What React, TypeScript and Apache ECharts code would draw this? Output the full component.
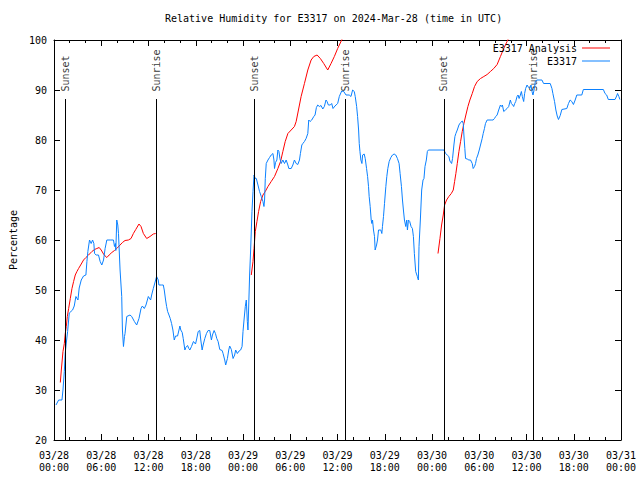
import React, { useEffect, useRef } from "react";
import * as echarts from "echarts";

const FONT = "DejaVu Sans Mono";
const TITLE = "Relative Humidity for E3317 on 2024-Mar-28 (time in UTC)";
const BLUE = "#0a80ff";
const RED = "#ff0000";

// hours since 2024-03-28 00:00 UTC, relative humidity (%)
const e3317Obs: [number, number][] = [
  [0.25,27],[0.59,28],[1.01,28],[1.14,30],[1.31,33.7],[1.43,37.4],[1.56,39.4],[1.73,41.7],[1.94,45.4],[2.15,45.7],[2.36,46],[2.57,46.8],[2.78,48.7],[3.04,48],[3.2,50.4],[3.46,52],[3.75,52.8],[4.05,53],[4.18,55.7],[4.3,57.7],[4.51,60],[4.72,59.3],[4.9,60],[5.06,59.3],[5.15,57.3],[5.35,57],[5.65,57],[5.86,55.7],[6.07,55],[6.29,56],[6.49,58.3],[6.71,60],[7.13,60],[7.55,60],[7.68,58.7],[7.8,59.3],[7.85,57.9],[7.97,64],[8.1,63],[8.19,61.3],[8.39,54],[8.6,48.7],[8.69,42],[8.82,38.7],[8.95,40.7],[9.02,41.3],[9.24,44.7],[9.65,45],[9.87,44.7],[10.21,43.7],[10.5,43],[10.79,44.3],[11.05,46.3],[11.22,46.8],[11.47,46.3],[11.68,47],[11.98,48.7],[12.27,48],[12.4,49],[12.61,50.3],[12.91,52],[13.03,52.7],[13.24,52],[13.32,51],[13.67,51],
  [13.88,51],[14.0,50],[14.17,48],[14.3,46.7],[14.43,45.7],[14.6,45],[14.76,44.3],[14.93,43.3],[15.1,42],[15.27,40],[15.44,40.8],[15.69,40.8],[15.99,42.8],[16.1,42],[16.28,41.5],[16.41,40.3],[16.62,38],[16.74,38.5],[16.96,38.9],[17.12,38.3],[17.25,38],[17.46,38.7],[17.71,39.7],[17.97,39.2],[18.09,40],[18.31,41.7],[18.51,41.9],[18.64,40],[18.81,38],[18.94,39],[19.15,40.3],[19.36,41.3],[19.57,41.9],[19.78,41.9],[19.99,40],[20.12,41],[20.33,41.9],[20.5,41.3],[20.67,40.3],[20.84,39.7],[21.05,38.1],[21.35,37.9],[21.47,37.3],[21.68,36],[21.8,35],[22.02,36.3],[22.19,38],[22.31,38.8],[22.52,38.1],[22.74,36.3],[22.94,37],[23.07,38],[23.28,37.3],[23.5,37.8],[23.7,38],[23.88,38.7],[24.0,41.7],[24.13,44],[24.29,46.7],[24.42,48],[24.55,43.7],[24.63,42],[24.71,46],[24.84,53],[24.97,58],
  [25.14,65.7],[25.27,69.7],[25.4,73],[25.56,72.3],[25.69,72.3],[25.9,71],[26.1,69.7],[26.32,68.7],[26.53,67.7],[26.66,66.7],[26.74,68],[26.83,72.3],[26.95,75.3],[27.17,76],[27.37,76.5],[27.58,77],[27.8,77.3],[27.93,76],[28.0,74.3],[28.13,75.5],[28.3,76],[28.43,78],[28.56,77.7],[28.69,76.3],[28.85,75.3],[29.06,76],[29.27,75.3],[29.48,76],[29.7,75],[29.82,74.3],[30.12,74.3],[30.33,75],[30.53,76],[30.75,75.3],[30.96,75.1],[31.17,76],[31.29,77.3],[31.47,79],[31.6,79.3],[31.8,79.7],[32.01,80.3],[32.23,81.3],[32.35,84],[32.52,83.7],[32.73,84],[32.99,84.7],[33.15,85],[33.32,86.5],[33.49,87],[33.7,86.7],[33.91,86.9],[34.13,86.2],[34.33,86.7],[34.54,88],[34.67,87.7],[34.84,87],[35.09,87],[35.26,87.3],[35.43,86.3],[35.68,86.8],[36.02,87.3],[36.23,88.7],[36.53,89.8],[36.79,89.7],[37.08,89],[37.49,89],
  [37.71,88.7],[37.92,90],[38.13,89.7],[38.25,88.7],[38.43,86.7],[38.55,84.7],[38.68,82],[38.76,79.3],[38.85,77.7],[38.97,76],[39.1,75.3],[39.19,77],[39.39,77.2],[39.52,76.3],[39.69,74.3],[39.82,72.7],[39.94,70.7],[40.02,68.7],[40.15,66.7],[40.28,64],[40.36,63.3],[40.45,64],[40.57,62],[40.7,60.7],[40.78,58],[40.96,59],[41.08,60],[41.21,62],[41.5,62],[41.63,61.3],[41.71,62.7],[41.84,64.7],[41.97,67.3],[42.14,70.7],[42.26,72.7],[42.39,74.3],[42.56,75.7],[42.77,76.5],[42.98,77],[43.19,77.2],[43.4,77],[43.61,76.3],[43.82,75.3],[43.95,73.3],[44.12,70.7],[44.25,68],[44.37,66],[44.5,64],[44.67,62.7],[44.79,64],[44.88,62],[45.01,64],[45.17,63.7],[45.34,62.7],[45.51,62.3],[45.64,60.7],[45.76,57.3],[45.93,53.7],[46.14,52.7],[46.27,52],[46.35,58.7],[46.52,64],[46.69,70],[46.86,72],[46.98,72.3],[47.11,74.7],[47.28,76],[47.41,77.7],[47.54,78],[49.52,78],
  [49.73,77.3],[49.94,77],[50.14,76.7],[50.27,75.8],[50.49,75.3],[50.61,76.3],[50.78,79],[50.91,80.7],[51.03,81.3],[51.21,82],[51.42,83],[51.63,83.5],[51.84,83.8],[51.97,83.3],[52.05,81],[52.17,78.3],[52.26,76.3],[52.47,76.2],[52.68,76],[52.89,76],[53.11,75.3],[53.23,74.3],[53.4,74.7],[53.53,75.3],[53.65,76.3],[53.82,77],[54.0,78],[54.16,79],[54.37,80.3],[54.5,81.3],[54.66,82.3],[54.79,83.3],[55.0,84],[55.51,84],[55.76,84],[55.93,84.3],[56.09,84.7],[56.27,85],[56.47,86],[56.69,87],[56.81,86.7],[56.94,87],[57.11,85.7],[57.32,86],[57.53,86.3],[57.74,86.7],[57.95,88],[58.08,87.3],[58.25,87],[58.37,86.7],[58.5,87.3],[58.63,87.7],[58.8,88.7],[58.93,89],[59.06,88.3],[59.22,89],[59.35,89.7],[59.47,88.7],[59.64,87.7],[59.76,89.3],[59.89,90.3],[60.07,91],[60.27,90.5],[60.4,90.3],[60.57,91],[60.7,89.7],[60.82,89],[61.0,90.3],[61.12,91.7],[61.3,92],
  [61.96,92],[62.17,91.3],[63.01,91.3],[63.23,90.3],[63.35,89.3],[63.56,87.7],[63.73,86],[63.9,84.8],[64.06,84.1],[64.28,84.9],[64.49,86.1],[65.12,86.3],[65.33,87.3],[65.54,88],[65.75,87.7],[65.96,87.1],[66.18,88],[66.39,89],[67.02,89],[67.22,90.1],[69.76,90.1],[69.97,89.3],[70.18,89],[70.39,88.1],[71.24,88.1],[71.45,88.8],[71.56,89.3],[71.73,88.7],[71.86,88.1],
];

const analysisRun1: [number, number][] = [
  [0.8,31.5],[0.93,34],[1.14,37.7],[1.31,39.3],[1.43,41.3],[1.56,42.7],[1.69,44.7],[1.86,46.3],[2.07,48.3],[2.28,50.3],[2.49,51.7],[2.7,53],[2.91,53.7],[3.12,54.3],[3.46,55.2],[3.75,56],[4.05,56.5],[4.39,57],[4.81,57.7],[5.15,58.1],[5.44,58.3],[5.74,58.5],[5.99,58],[6.29,57.2],[6.49,56.8],[6.71,56.5],[7.0,57],[7.34,57.5],[7.68,57.9],[7.97,58.3],[8.39,59],[8.69,59.5],[9.02,59.9],[9.45,60],[9.78,60.3],[10.08,61.3],[10.38,62.1],[10.79,63.2],[11.05,62.7],[11.35,61.3],[11.77,60.3],[12.19,60.7],[12.61,61.2],[12.91,61.3],
];
const analysisRun2: [number, number][] = [
  [25.05,53],[25.27,55.7],[25.4,58.3],[25.56,61.7],[25.77,63.7],[25.98,65.7],[26.24,67.7],[26.53,69],[26.83,69.7],[27.17,70.7],[27.58,71.7],[28.0,72.7],[28.43,74.3],[28.77,75.7],[29.06,77.7],[29.36,79.7],[29.7,81.3],[30.12,82],[30.53,82.7],[30.75,83.7],[31.04,86],[31.38,88.7],[31.8,91.3],[32.23,94],[32.65,96],[32.99,96.7],[33.41,97],[33.82,96.3],[34.25,95.3],[34.76,94],[35.18,95.3],[35.6,96.7],[36.02,98.3],[36.53,100],[37.0,101.6],
];
const analysisRun3: [number, number][] = [
  [48.76,57.3],[49.01,60.3],[49.22,63],[49.43,65],[49.6,67],[49.85,68],[50.14,68.7],[50.45,69.3],[50.7,70],[50.87,71.7],[51.03,73.3],[51.21,75.3],[51.42,77.7],[51.63,79.7],[51.84,81.7],[52.05,83.3],[52.3,85],[52.56,86.7],[52.81,88],[53.11,89.3],[53.4,90.7],[53.74,91.7],[54.16,92.3],[54.58,92.7],[55.0,93.1],[55.42,93.7],[55.84,94.3],[56.27,95.1],[56.69,96.7],[57.11,98.3],[57.53,99.7],[58.0,101.3],
];

const sunEvents = ["Sunset", "Sunrise", "Sunset", "Sunrise", "Sunset", "Sunrise"];
const sunHours = [1.43, 13.03, 25.47, 36.99, 49.52, 60.9];
const sunLineTop = 88.2;

const yTicks = [20, 100, 10]; // min, max, step
const xRangeHours = [0, 72, 6];

function fmtTick(v: number): string {
  const day = 28 + Math.floor(v / 24);
  const hr = Math.round(v % 24);
  return `03/${day}\n${String(hr).padStart(2, "0")}:00`;
}

export default function App() {
  const ref = useRef<HTMLDivElement>(null);
  useEffect(() => {
    if (!ref.current) return;
    const chart = echarts.init(ref.current, null, { renderer: "svg" });
    const analysisData: any[] = [
      ...analysisRun1,
      [18, "-"],
      ...analysisRun2,
      [43, "-"],
      ...analysisRun3,
    ];
    const axisCommonX = {
      type: "value",
      min: xRangeHours[0],
      max: xRangeHours[1],
      interval: xRangeHours[2],
      splitLine: { show: false },
      axisLine: { show: true, onZero: false, lineStyle: { color: "#000", width: 1 } },
      axisTick: { show: true, inside: true, length: 6, lineStyle: { color: "#000" } },
      minorTick: { show: true, splitNumber: 3, length: 3, lineStyle: { color: "#000" } },
    };
    const axisCommonY = {
      type: "value",
      min: yTicks[0],
      max: yTicks[1],
      interval: yTicks[2],
      splitLine: { show: false },
      axisLine: { show: true, onZero: false, lineStyle: { color: "#000", width: 1 } },
      axisTick: { show: true, inside: true, length: 6, lineStyle: { color: "#000" } },
    };
    const legendCommon = {
      orient: "horizontal",
      align: "right",
      right: 30,
      padding: 0,
      icon: "rect",
      itemWidth: 28,
      itemHeight: 1,
      textStyle: { fontFamily: FONT, fontSize: 10, color: "#000" },
    };
    chart.setOption({
      animation: false,
      backgroundColor: "#fff",
      textStyle: { fontFamily: FONT },
      title: {
        text: TITLE,
        left: 165,
        top: 13,
        padding: 0,
        textStyle: { fontFamily: FONT, fontSize: 10, fontWeight: "normal", color: "#000" },
      },
      legend: [
        { ...legendCommon, data: ["E3317 Analysis"], top: 43 },
        { ...legendCommon, data: ["E3317"], top: 56 },
      ],
      grid: { left: 52, right: 19, top: 40, bottom: 40 },
      xAxis: [
        {
          ...axisCommonX,
          position: "bottom",
          axisLabel: {
            formatter: fmtTick,
            fontFamily: FONT,
            fontSize: 10,
            color: "#000",
            margin: 9,
            lineHeight: 12,
            showMinLabel: true,
            showMaxLabel: true,
          },
        },
        { ...axisCommonX, position: "top", axisLabel: { show: false } },
      ],
      yAxis: [
        {
          ...axisCommonY,
          position: "left",
          name: "Percentage",
          nameLocation: "middle",
          nameRotate: 90,
          nameGap: 36,
          nameTextStyle: { fontFamily: FONT, fontSize: 10, color: "#000" },
          axisLabel: { fontFamily: FONT, fontSize: 10, color: "#000", margin: 7 },
        },
        { ...axisCommonY, position: "right", axisLabel: { show: false } },
      ],
      series: [
        {
          name: "E3317 Analysis",
          type: "line",
          data: analysisData,
          connectNulls: false,
          symbol: "none",
          clip: true,
          itemStyle: { color: RED },
          lineStyle: { color: RED, width: 1 },
        },
        {
          name: "E3317",
          type: "line",
          data: e3317Obs,
          symbol: "none",
          clip: true,
          itemStyle: { color: BLUE },
          lineStyle: { color: BLUE, width: 1 },
        },
        {
          name: "sun",
          type: "scatter",
          symbolSize: 1,
          itemStyle: { color: "rgba(0,0,0,0)" },
          silent: true,
          data: sunHours.map((h, i) => [h, sunLineTop, sunEvents[i]]),
          label: {
            show: true,
            position: "top",
            distance: 7,
            rotate: 90,
            align: "left",
            verticalAlign: "middle",
            fontFamily: FONT,
            fontSize: 10,
            color: "#000",
            formatter: (p: any) => p.data[2],
          },
          markLine: {
            silent: true,
            symbol: ["none", "none"],
            label: { show: false },
            lineStyle: { color: "#000", width: 1, type: "solid" },
            data: sunHours.map((h) => [{ coord: [h, sunLineTop] }, { coord: [h, yTicks[0]] }]),
          },
        },
      ],
    });
    return () => chart.dispose();
  }, []);
  return (
    <div
      ref={ref}
      style={{ position: "fixed", left: 0, top: 0, width: 640, height: 480, background: "#fff" }}
    />
  );
}
